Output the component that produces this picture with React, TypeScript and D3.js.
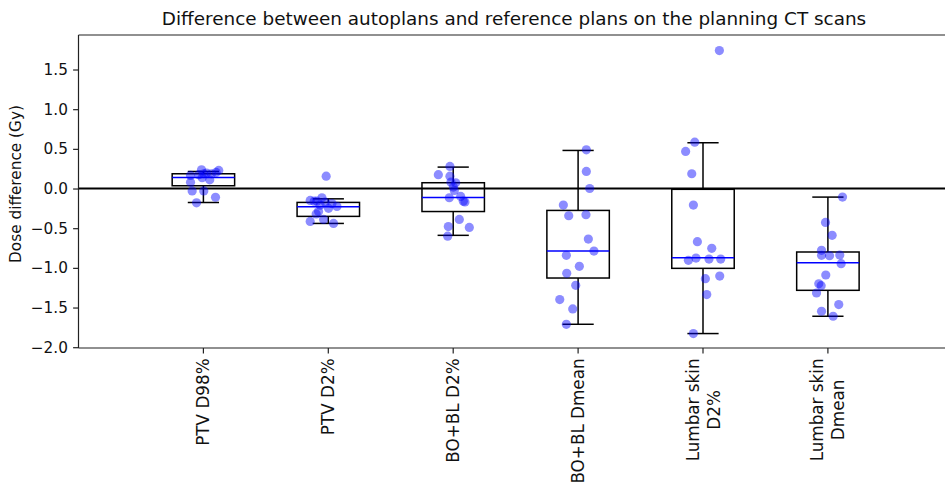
import React, { useEffect, useRef } from "react";
import * as d3 from "d3";

const categories = ["PTV D98%", "PTV D2%", "BO+BL D2%", "BO+BL Dmean", "Lumbar skin\nD2%", "Lumbar skin\nDmean"];

// box statistics
const whiskerLow = [-0.175, -0.44, -0.59, -1.711, -1.828, -1.61];
const q1 = [0.035, -0.351, -0.29, -1.128, -1.006, -1.283];
const median = [0.14, -0.23, -0.112, -0.788, -0.871, -0.934];
const q3 = [0.186, -0.175, 0.073, -0.276, -0.01, -0.8];
const whiskerHigh = [0.215, -0.13, 0.27, 0.48, 0.577, -0.108];

// individual points (dose differences) and their horizontal jitter
const ptvD98 = [0.236, 0.228, 0.203, 0.186, 0.186, 0.174, 0.165, 0.195, 0.136, 0.11, 0.08, -0.03, -0.03, -0.11, -0.18];
const ptvD98Jit = [-0.015, 0.123, 0.102, 0.065, 0.003, -0.037, -0.103, 0.025, -0.01, 0.051, -0.103, -0.09, 0.003, 0.097, -0.055];
const ptvD2 = [0.156, -0.116, -0.15, -0.16, -0.16, -0.17, -0.19, -0.225, -0.21, -0.25, -0.29, -0.32, -0.39, -0.415, -0.44];
const ptvD2Jit = [-0.017, -0.051, -0.145, -0.113, -0.091, -0.025, 0.029, 0.069, -0.065, 0.002, -0.078, -0.097, -0.038, -0.145, 0.042];
const boblD2 = [0.278, 0.174, 0.156, 0.08, 0.073, 0.018, -0.024, -0.116, -0.1, -0.17, -0.16, -0.39, -0.48, -0.49, -0.6];
const boblD2Jit = [-0.026, -0.119, -0.026, -0.018, 0.02, 0.001, 0.009, -0.031, 0.06, 0.094, 0.081, 0.049, -0.039, 0.129, -0.044];
const boblDmean = [0.488, 0.215, 0.0, -0.209, -0.343, -0.33, -0.637, -0.788, -0.842, -0.98, -1.069, -1.22, -1.4, -1.518, -1.711];
const boblDmeanJit = [0.066, 0.066, 0.093, -0.118, -0.075, 0.063, 0.082, 0.127, -0.094, 0.01, -0.091, -0.019, -0.147, -0.043, -0.094];
const skinD2 = [1.739, 0.584, 0.467, 0.186, -0.209, -0.67, -0.754, -0.905, -0.876, -0.889, -0.889, -1.136, -1.103, -1.337, -1.828];
const skinD2Jit = [0.131, -0.066, -0.139, -0.09, -0.077, -0.045, 0.07, -0.117, -0.056, 0.048, 0.142, 0.019, 0.134, 0.03, -0.077];
const skinDmean = [-0.108, -0.427, -0.59, -0.779, -0.842, -0.846, -0.838, -0.947, -1.09, -1.2, -1.224, -1.317, -1.463, -1.547, -1.61];
const skinDmeanJit = [0.117, -0.019, 0.034, -0.051, -0.051, 0.013, 0.095, 0.106, -0.017, -0.073, -0.054, -0.091, 0.087, -0.051, 0.042];

const yTicks = [-2.0, -1.5, -1.0, -0.5, 0.0, 0.5, 1.0, 1.5];

const W = 945;
const H = 484;
const FONT = "'DejaVu Sans', sans-serif";

export default function App() {
  const ref = useRef<SVGSVGElement | null>(null);

  useEffect(() => {
    const svg = d3.select(ref.current);
    svg.selectAll("*").remove();

    const left = 78.5, right = 952.8, top = 35, bottom = 348;
    const x = d3.scaleLinear().domain([0, 7]).range([left, right]);
    const y = d3.scaleLinear().domain([-2.01, 1.935]).range([bottom, top]);

    const series = [
      { v: ptvD98, j: ptvD98Jit },
      { v: ptvD2, j: ptvD2Jit },
      { v: boblD2, j: boblD2Jit },
      { v: boblDmean, j: boblDmeanJit },
      { v: skinD2, j: skinD2Jit },
      { v: skinDmean, j: skinDmeanJit },
    ];

    const g = svg.append("g");

    // boxes
    categories.forEach((_, i) => {
      const p = i + 1;
      const bx0 = x(p - 0.25), bx1 = x(p + 0.25);
      const cx0 = x(p - 0.125), cx1 = x(p + 0.125);
      const xc = x(p);
      const bg = g.append("g").attr("stroke", "black").attr("stroke-width", 1.5).attr("fill", "none");
      bg.append("line").attr("x1", xc).attr("x2", xc).attr("y1", y(q1[i])).attr("y2", y(whiskerLow[i]));
      bg.append("line").attr("x1", xc).attr("x2", xc).attr("y1", y(q3[i])).attr("y2", y(whiskerHigh[i]));
      bg.append("line").attr("x1", cx0).attr("x2", cx1).attr("y1", y(whiskerLow[i])).attr("y2", y(whiskerLow[i]));
      bg.append("line").attr("x1", cx0).attr("x2", cx1).attr("y1", y(whiskerHigh[i])).attr("y2", y(whiskerHigh[i]));
      bg.append("rect").attr("x", bx0).attr("y", y(q3[i])).attr("width", bx1 - bx0).attr("height", y(q1[i]) - y(q3[i]));
      g.append("line").attr("x1", bx0).attr("x2", bx1).attr("y1", y(median[i])).attr("y2", y(median[i]))
        .attr("stroke", "blue").attr("stroke-width", 1.5);
    });

    // zero line
    g.append("line").attr("x1", left).attr("x2", right).attr("y1", y(0)).attr("y2", y(0))
      .attr("stroke", "black").attr("stroke-width", 2.2);

    // points
    series.forEach((s, i) => {
      s.v.forEach((v, k) => {
        g.append("circle").attr("cx", x(i + 1 + s.j[k])).attr("cy", y(v)).attr("r", 4.6)
          .attr("fill", "blue").attr("fill-opacity", 0.45);
      });
    });

    // spines
    const sp = svg.append("g").attr("stroke", "#222").attr("stroke-width", 1.2);
    sp.append("line").attr("x1", left).attr("x2", left).attr("y1", top).attr("y2", bottom);
    sp.append("line").attr("x1", left).attr("x2", right).attr("y1", top).attr("y2", top);
    sp.append("line").attr("x1", left).attr("x2", right).attr("y1", bottom).attr("y2", bottom);
    sp.append("line").attr("x1", right).attr("x2", right).attr("y1", top).attr("y2", bottom);

    // y axis
    const yAxis = d3.axisLeft(y).tickValues(yTicks).tickSize(5.4).tickPadding(5.2)
      .tickFormat((d) => d3.format(".1f")(d as number).replace("-", "\u2212"));
    const ya = svg.append("g").attr("transform", `translate(${left},0)`).call(yAxis);
    ya.select(".domain").remove();
    ya.selectAll("line").attr("stroke", "#222").attr("stroke-width", 1.2);
    ya.selectAll("text").attr("font-family", FONT).attr("font-size", 15.3).attr("fill", "#111");

    // x axis
    const xa = svg.append("g");
    categories.forEach((c, i) => {
      const xc = x(i + 1);
      xa.append("line").attr("x1", xc).attr("x2", xc).attr("y1", bottom).attr("y2", bottom + 5.4)
        .attr("stroke", "#222").attr("stroke-width", 1.2);
      const lines = c.split("\n");
      const tg = xa.append("g").attr("transform", `translate(${xc},${bottom + 10.4}) rotate(-90)`);
      const texts = lines.map((ln, k) =>
        tg.append("text").text(ln)
          .attr("font-family", FONT).attr("font-size", 16.8).attr("fill", "#111")
          .attr("dominant-baseline", "central")
          .attr("y", (k - (lines.length - 1) / 2) * 21)
      );
      const widths = texts.map((t) => (t.node() as SVGTextElement).getComputedTextLength());
      const maxW = d3.max(widths) || 0;
      texts.forEach((t) => t.attr("text-anchor", "middle").attr("x", -maxW / 2));
    });

    // y label
    svg.append("text").text("Dose difference (Gy)")
      .attr("transform", `translate(16,${184}) rotate(-90)`)
      .attr("text-anchor", "middle").attr("dominant-baseline", "central")
      .attr("font-family", FONT).attr("font-size", 15.3).attr("fill", "#111");

    // title
    svg.append("text").text("Difference between autoplans and reference plans on the planning CT scans")
      .attr("x", 514).attr("y", 25).attr("text-anchor", "middle")
      .attr("font-family", FONT).attr("font-size", 18.4).attr("fill", "#111");
  }, []);

  return (
    <svg ref={ref} width={W} height={H} style={{ position: "absolute", left: 0, top: 0, background: "white" }} />
  );
}
